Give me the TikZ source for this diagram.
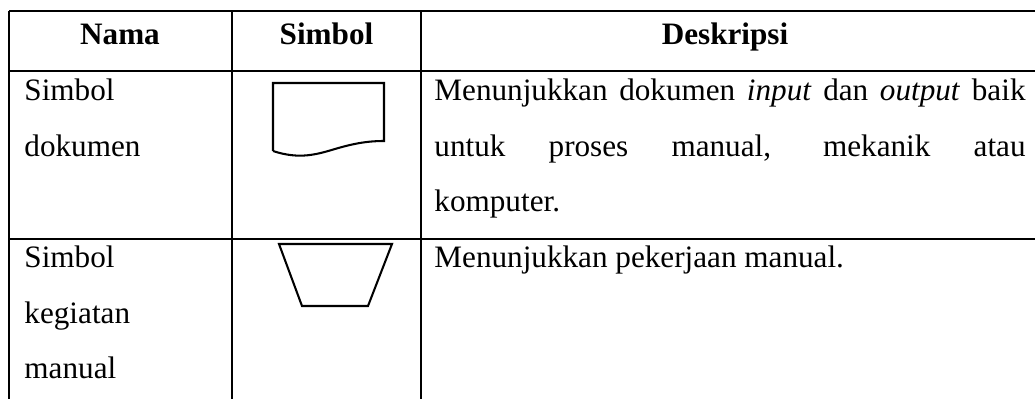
\documentclass[tikz,border=0pt]{standalone}
\usepackage{fontspec}
\setmainfont{Liberation Serif}
\usepackage{tikz}
\usetikzlibrary{shapes.geometric}
\tikzstyle{grid} = [line width=1pt, draw=black]
\tikzstyle{symbol} = [line width=0.85pt, draw=black, line join=miter]
\tikzstyle{head} = [inner sep=0pt, anchor=base, font=\fontsize{12.9}{22.8}\selectfont\bfseries]
\tikzstyle{cell} = [inner sep=0pt, anchor=base west, text width=80pt, align=left, font=\fontsize{12.9}{22.8}\selectfont]
\tikzstyle{desc} = [inner sep=0pt, anchor=base west, text width=244.6pt, align=justify, font=\fontsize{12.9}{22.8}\selectfont]

\begin{document}
\begin{tikzpicture}[x=0.4138pt, y=-0.4138pt]
			\useasboundingbox (0,0) rectangle (1035,399);
			% table lines
			\draw [grid] (9,11) -- (1035,11);
			\draw [grid] (9,71) -- (1035,71);
			\draw [grid] (9,239) -- (1035,239);
			\draw [grid] (9,11) -- (9,399);
			\draw [grid] (232,11) -- (232,399);
			\draw [grid] (421,11) -- (421,399);

			% header
			\node (nama) [head] at (120,45) {Nama};
			\node (simbol) [head] at (326.5,45) {Simbol};
			\node (deskripsi) [head] at (725,45) {Deskripsi};

			% row 1
			\node (dokumen) [cell] at (24,101) {Simbol\\dokumen};
			\draw [symbol] (273,151) -- (273,83) -- (384,83) -- (384,141)
				.. controls (366,141) and (352,144) .. (335,149)
				.. controls (318,154) and (300,160) .. (273,151);
			\node (descdok) [desc] at (434,101) {Menunjukkan dokumen \emph{input} dan \emph{output} baik\linebreak untuk proses manual, mekanik atau\linebreak komputer.};

			% row 2
			\node (manual) [cell] at (24,268) {Simbol\\kegiatan\\manual};
			\draw [symbol] (279,244) -- (392,244) -- (368,306) -- (302,306) -- cycle;
			\node (descman) [desc] at (434,268) {Menunjukkan pekerjaan manual.};
		\end{tikzpicture}
\end{document}
